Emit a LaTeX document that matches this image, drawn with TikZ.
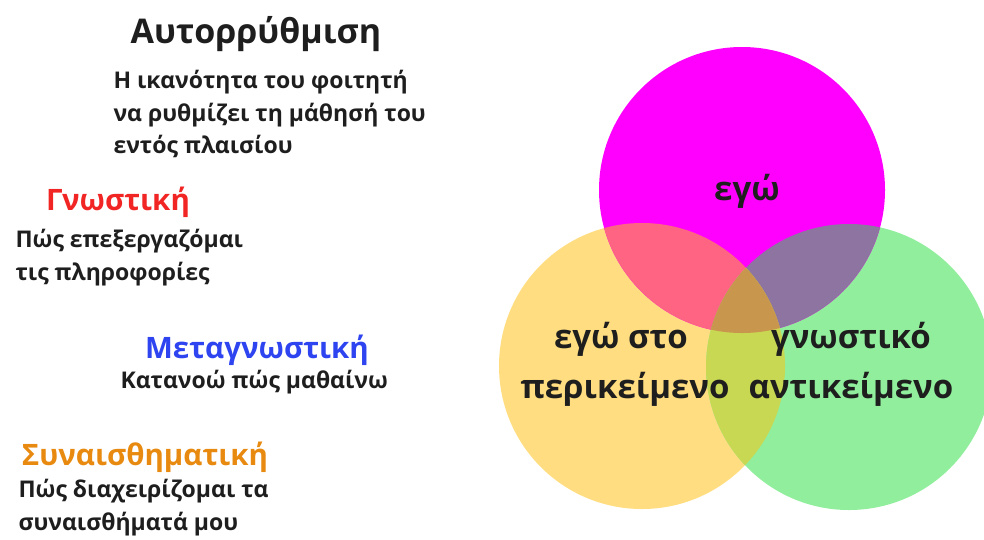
\documentclass[tikz,border=0pt]{standalone}
\usepackage{fontspec}
\setmainfont{Open Sans}
\definecolor{txt}{HTML}{1E1E1E}
\definecolor{egoc}{HTML}{FF00FF}
\definecolor{ctxc}{HTML}{FFDD80}
\definecolor{objc}{HTML}{90EE9C}
\definecolor{egoctx}{HTML}{FF6482}
\definecolor{egoobj}{HTML}{8E74A0}
\definecolor{ctxobj}{HTML}{C8D852}
\definecolor{allc}{HTML}{C8964C}
\definecolor{cogred}{HTML}{F22525}
\definecolor{metablue}{HTML}{2E44F0}
\definecolor{emoorange}{HTML}{E88A10}
\begin{document}
\begin{tikzpicture}[x=1pt, y=-1pt,
  title/.style={anchor=base, text=txt, font=\bfseries\fontsize{34}{40}\selectfont},
  head/.style={anchor=base, font=\bfseries\fontsize{29.5}{34}\selectfont},
  body/.style={anchor=base west, text=txt, font=\bfseries\fontsize{23}{28}\selectfont},
  venn/.style={anchor=base, text=txt, font=\bfseries\fontsize{33}{38}\selectfont}]
\useasboundingbox (0,0) rectangle (984,539);
% circle centres
\coordinate (M) at (742,190);
\coordinate (Y) at (642,366);
\coordinate (G) at (849,367);
\def\rad{143}
\fill[ctxc] (Y) circle (\rad);
\fill[objc] (G) circle (\rad);
\fill[egoc] (M) circle (\rad);
\begin{scope}
  \clip (M) circle (\rad);
  \fill[egoctx] (Y) circle (\rad);
  \fill[egoobj] (G) circle (\rad);
\end{scope}
\begin{scope}
  \clip (Y) circle (\rad);
  \fill[ctxobj] (G) circle (\rad);
  \clip (G) circle (\rad);
  \fill[allc] (M) circle (\rad);
\end{scope}
\node[venn] (ego) at (747,200) {εγώ};
\node[venn] (ctx1) at (621,348) {εγώ στο};
\node[venn] (ctx2) at (625,398) {περικείμενο};
\node[venn] (obj1) at (851,348) {γνωστικό};
\node[venn] (obj2) at (851,398) {αντικείμενο};
% left column
\node[title] (selfreg) at (256,43) {Αυτορρύθμιση};
\foreach \y/\txt [count=\i] in {88/Η ικανότητα του φοιτητή, 121/να ρυθμίζει τη μάθησή του, 153/εντός πλαισίου}
  \node[body] (def\i) at (110,\y) {\txt};
\node[head, text=cogred] (cog) at (118,210) {Γνωστική};
\node[body] (cog1) at (12,247) {Πώς επεξεργαζόμαι};
\node[body] (cog2) at (12,280) {τις πληροφορίες};
\node[head, text=metablue] (meta) at (257,358) {Μεταγνωστική};
\node[body] (meta1) at (117,388) {Κατανοώ πώς μαθαίνω};
\node[head, text=emoorange] (emo) at (145,465) {Συναισθηματική};
\node[body] (emo1) at (15,497) {Πώς διαχειρίζομαι τα};
\node[body] (emo2) at (15,530) {συναισθήματά μου};
\end{tikzpicture}
\end{document}
